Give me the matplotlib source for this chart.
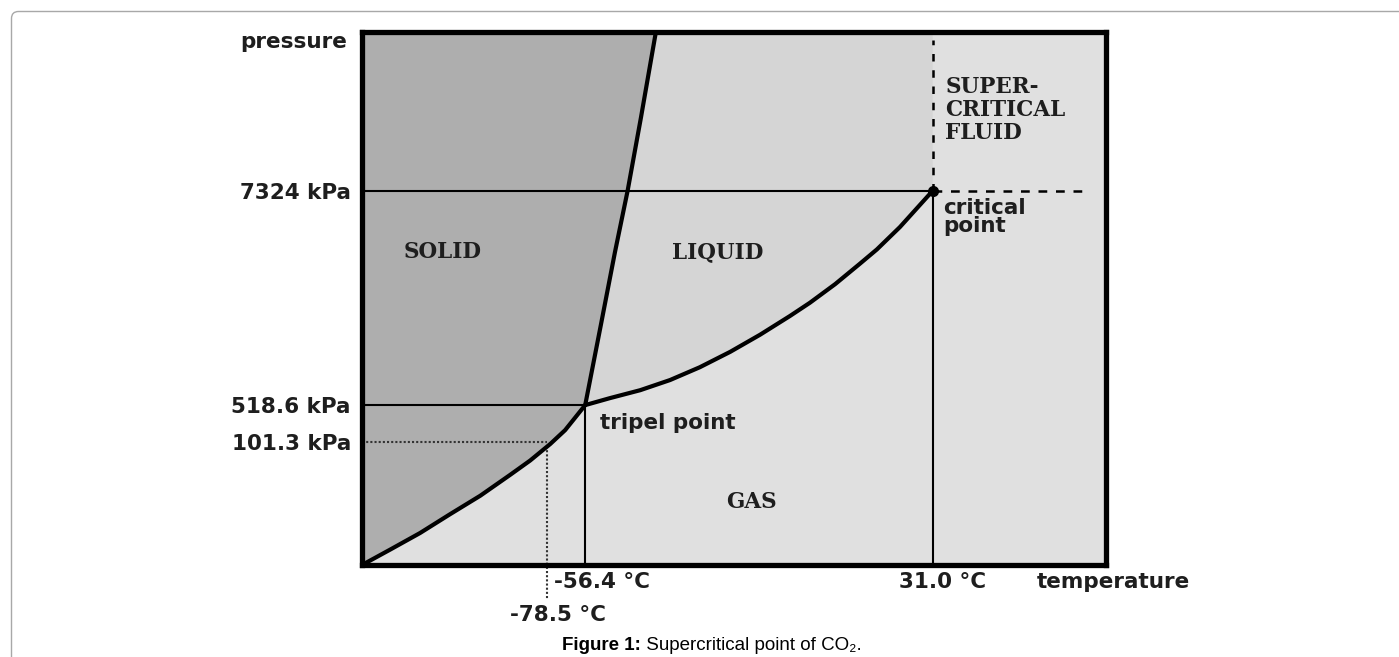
import matplotlib
matplotlib.use("Agg")
import matplotlib.pyplot as plt
from matplotlib.patches import FancyBboxPatch, Polygon
from matplotlib.transforms import IdentityTransform, Bbox, blended_transform_factory

# schematic phase diagram of CO2 (not to scale), both axes run 0..1
press_labels = ["7324 kPa", "518.6 kPa", "101.3 kPa"]
press_pos = [0.702, 0.300, 0.231]
temp_labels = ["-78.5 °C", "-56.4 °C", "31.0 °C"]
temp_pos = [0.249, 0.300, 0.767]

# solid / gas boundary (origin -> triple point)
sub_t = [0.000, 0.038, 0.078, 0.118, 0.159, 0.199, 0.226, 0.253, 0.273, 0.300]
sub_p = [0.000, 0.029, 0.060, 0.095, 0.130, 0.169, 0.196, 0.227, 0.253, 0.300]
# solid / liquid boundary (triple point -> top)
fus_t = [0.300, 0.321, 0.340, 0.357, 0.375, 0.395]
fus_p = [0.300, 0.450, 0.587, 0.702, 0.840, 1.000]
# liquid / gas boundary (triple point -> critical point)
vap_t = [0.300, 0.333, 0.374, 0.414, 0.454, 0.495, 0.535, 0.575, 0.602,
         0.636, 0.669, 0.692, 0.723, 0.767]
vap_p = [0.300, 0.313, 0.328, 0.347, 0.371, 0.400, 0.432, 0.467, 0.492,
         0.527, 0.565, 0.592, 0.634, 0.702]

regions = ["SOLID", "LIQUID", "GAS", "SUPER-\nCRITICAL\nFLUID"]
region_xy = [(0.109, 0.587), (0.478, 0.587), (0.523, 0.118), (0.784, 0.854)]

SOLID_C = "#aeaeae"
LIQUID_C = "#d5d5d5"
GAS_C = "#e0e0e0"
TXT = "#1e1e1e"
SANS = ["DejaVu Sans"]
SERIF = ["DejaVu Serif"]

t_dry, t_tri, t_crit = temp_pos
p_crit, p_tri, p_dry = press_pos

fig = plt.figure(figsize=(13.99, 6.57), dpi=100)
W, H = 1399, 657
ax = fig.add_axes([362 / W, 1 - 565 / H, 744 / W, 533 / H])
ax.set_xlim(0, 1)
ax.set_ylim(0, 1)
ax.set_facecolor(GAS_C)

# page border (rounded corner top-left)
border = FancyBboxPatch((11.5, -30), 1500, H - 11.5 + 30,
                        boxstyle="round,pad=0,rounding_size=7",
                        transform=IdentityTransform(), fc="none",
                        ec="#a8a8a8", lw=1.0)
fig.add_artist(border)

# phase areas
solid_verts = [(0, 0)] + list(zip(sub_t, sub_p)) + list(zip(fus_t, fus_p))[1:] + [(0, 1)]
ax.add_patch(Polygon(solid_verts, closed=True, fc=SOLID_C, ec="none", zorder=1))
liquid_verts = list(zip(fus_t, fus_p)) + [(t_crit, 1)] + list(zip(vap_t[::-1], vap_p[::-1]))
ax.add_patch(Polygon(liquid_verts, closed=True, fc=LIQUID_C, ec="none", zorder=1))

# helper lines
ax.plot([0, t_crit], [p_crit, p_crit], color="k", lw=1.5, zorder=2)
ax.plot([0, t_tri], [p_tri, p_tri], color="k", lw=1.5, zorder=2)
ax.plot([t_tri, t_tri], [0, p_tri], color="k", lw=1.5, zorder=2)
ax.plot([t_crit, t_crit], [0, p_crit], color="k", lw=1.5, zorder=2)
ax.plot([t_crit, t_crit], [p_crit, 0.985], color="k", lw=1.8, dashes=(3, 3.5), zorder=2)
ax.plot([t_crit, 0.978], [p_crit, p_crit], color="k", lw=1.8, dashes=(3.5, 3.5), zorder=2)
ax.plot([0, t_dry], [p_dry, p_dry], color="#333333", lw=1.5, ls=(0, (1, 1)), zorder=2)
ax.plot([t_dry, t_dry], [p_dry - 0.008, -0.066], color="#333333", lw=1.5,
        ls=(0, (1, 1)), zorder=2, clip_on=False)

# phase boundaries
for xs, ys in [(sub_t, sub_p), (fus_t, fus_p), (vap_t, vap_p)]:
    ax.plot(xs, ys, color="k", lw=3.0, solid_capstyle="round",
            solid_joinstyle="round", zorder=3)
ax.plot([t_crit], [p_crit], "o", color="k", ms=7, zorder=4)

for s in ax.spines.values():
    s.set_linewidth(3.8)
    s.set_zorder(5)

# pressure labels on the y axis
ax.set_xticks([])
ax.set_yticks(press_pos, press_labels)
ax.tick_params(axis="y", length=0, pad=8)
for lab in ax.get_yticklabels():
    lab.set_fontsize(15.5)
    lab.set_fontweight("bold")
    lab.set_family(SANS)
    lab.set_color(TXT)

tf = blended_transform_factory(ax.transData, ax.transAxes)
lab_kw = dict(fontsize=15.5, fontweight="bold", family=SANS, color=TXT, va="center")
ax.text(-0.02, 0.981, "pressure", ha="right", transform=ax.transAxes, **lab_kw)
ax.text(0.907, -0.032, "temperature", ha="left", transform=ax.transAxes, **lab_kw)

# temperature labels below the frame
x_off = [8, 12, 7]
x_lev = [-0.094, -0.032, -0.032]
for t, lab, dx, yl in zip(temp_pos, temp_labels, x_off, x_lev):
    txt = ax.annotate(lab, xy=(t, yl), xycoords=tf, xytext=(dx, 0),
                      textcoords="offset points", ha="center",
                      annotation_clip=False, **lab_kw)
    if lab == "-78.5 °C":
        # the source image is cut off just under this label
        txt.set_clip_box(Bbox([[0, 36], [W, H]]))
        txt.set_clip_on(True)

ax.text(0.320, 0.266, "tripel point", ha="left", **lab_kw)
ax.text(0.781, 0.653, "critical\npoint", ha="left", linespacing=0.9, **lab_kw)

for name, (x, y) in zip(regions, region_xy):
    ax.text(x, y, name, ha="center" if "\n" not in name else "left", va="center",
            fontsize=15.5, fontweight="bold", family=SERIF, color=TXT,
            linespacing=1.05)

# caption
cap = fig.text(562 / W, 1 - 650 / H, "Figure 1:", fontsize=13.5, fontweight="bold",
               family=["Liberation Sans", "DejaVu Sans"], va="baseline")
plt.annotate(" Supercritical point of CO\u2082.", xy=(1, 0), xycoords=cap,
             ha="left", va="bottom", fontsize=13.5,
             family=["Liberation Sans", "DejaVu Sans"])

fig.savefig("out.png", dpi=100)
